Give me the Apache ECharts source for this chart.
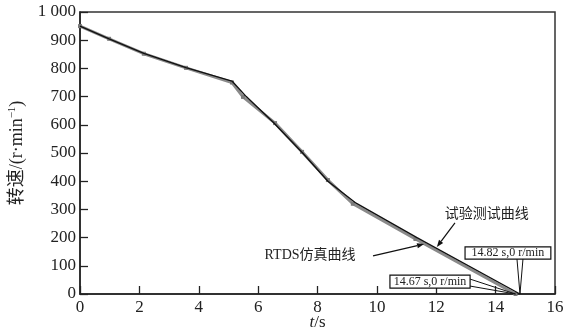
<!DOCTYPE html>
<html><head><meta charset="utf-8">
<script src="https://cdn.jsdelivr.net/npm/echarts@6/dist/echarts.min.js"></script>
<style>html,body{margin:0;padding:0;background:#fff}#c{width:566px;height:331px}</style>
</head><body><div id="c"></div>
<script>
// simulation (RTDS) curve
var simT = [0, 0.98, 2.15, 3.57, 5.12, 5.49, 6.57, 7.48, 8.35, 9.19, 11.3, 14.67];
var simV = [950, 905, 852, 802, 750, 699, 606, 504, 404, 320, 195, 0];
// test curve
var testT = [0, 0.98, 2.15, 3.57, 5.12, 5.6, 6.5, 7.5, 8.35, 9.3, 11.35, 14.82];
var testV = [950, 905, 853, 803, 755, 700, 610, 500, 400, 322, 200, 0];
var xTicks = [0, 2, 4, 6, 8, 10, 12, 14, 16];
var yTicks = [0, 100, 200, 300, 400, 500, 600, 700, 800, 900, 1000];
var labelTest = '试验测试曲线';
var labelSim = 'RTDS仿真曲线';
var box1 = '14.82 s,0 r/min';
var box2 = '14.67 s,0 r/min';

var serif = '"Liberation Serif","Noto Sans CJK SC",serif';
function pairs(t, v) { return t.map(function (x, i) { return [x, v[i]]; }); }

var chart = echarts.init(document.getElementById('c'));
chart.setOption({
  animation: false,
  grid: { left: 80, right: 11, top: 12, bottom: 37, show: true, borderColor: '#333', borderWidth: 1.5, containLabel: false, outerBoundsMode: 'none' },
  xAxis: {
    type: 'value', min: 0, max: 16, interval: 2,
    name: '{i|t}/s', nameLocation: 'middle', nameGap: 20, nameMoveOverlap: false,
    nameTextStyle: { fontFamily: serif, fontSize: 17, color: '#222', rich: { i: { fontStyle: 'italic', fontFamily: serif, fontSize: 17, color: '#222' } } },
    axisLine: { lineStyle: { color: '#222', width: 1.5 } },
    axisTick: { inside: true, length: 8, lineStyle: { color: '#222', width: 1.3 } },
    axisLabel: { fontFamily: serif, fontSize: 17, color: '#222', margin: 5, formatter: function (v) { return xTicks.indexOf(v) >= 0 ? String(v) : ''; } },
    splitLine: { show: false }
  },
  yAxis: {
    type: 'value', min: 0, max: 1000, interval: 100,
    name: '转速/(r·min{s|−1})', nameLocation: 'middle', nameGap: 53, nameRotate: 90, nameMoveOverlap: false,
    nameTextStyle: { fontFamily: serif, fontSize: 18, color: '#222', rich: { s: { fontSize: 11, verticalAlign: 'top', fontFamily: serif, color: '#222', padding: [0, 0, 9, 0] } } },
    axisLine: { lineStyle: { color: '#222', width: 1.5 } },
    axisTick: { inside: true, length: 8, lineStyle: { color: '#222', width: 1.3 } },
    axisLabel: { fontFamily: serif, fontSize: 17, color: '#222', margin: 4, formatter: function (v) { return v === 1000 ? '1 000' : (yTicks.indexOf(v) >= 0 ? String(v) : ''); } },
    splitLine: { show: false }
  },
  series: [
    {
      name: 'sim', type: 'line', data: pairs(simT, simV),
      lineStyle: { color: '#8a8a8a', width: 3 },
      symbol: 'rect', symbolSize: 4, itemStyle: { color: '#7a7a7a' }, z: 2
    },
    {
      name: 'test', type: 'line', data: pairs(testT, testV),
      lineStyle: { color: '#111', width: 1.4 },
      symbol: 'none', z: 3
    }
  ]
});

function P(t, v) { return chart.convertToPixel({ gridIndex: 0 }, [t, v]); }
function arrowEl(a, b) {
  var p = P(a[0], a[1]), q = P(b[0], b[1]);
  var ang = Math.atan2(q[1] - p[1], q[0] - p[0]);
  var L = 7, W = 2.6;
  var bx = q[0] - L * Math.cos(ang), by = q[1] - L * Math.sin(ang);
  var nx = -Math.sin(ang) * W, ny = Math.cos(ang) * W;
  return [
    { type: 'line', shape: { x1: p[0], y1: p[1], x2: bx, y2: by }, style: { stroke: '#111', lineWidth: 1.2 }, z: 10 },
    { type: 'polygon', shape: { points: [[q[0], q[1]], [bx + nx, by + ny], [bx - nx, by - ny]] }, style: { fill: '#111' }, z: 10 }
  ];
}
var els = [];
var tt = P(13.7, 287);
els.push({ type: 'text', x: tt[0], y: tt[1], style: { text: labelTest, font: '14px "Noto Sans CJK SC"', fill: '#222', align: 'center', verticalAlign: 'middle' }, z: 10 });
els = els.concat(arrowEl([12.63, 252], [12.02, 167]));
var ts = P(7.75, 138);
els.push({ type: 'text', x: ts[0], y: ts[1], style: { text: labelSim, font: '14px "Liberation Serif","Noto Sans CJK SC"', fill: '#222', align: 'center', verticalAlign: 'middle' }, z: 10 });
els = els.concat(arrowEl([9.87, 135], [11.59, 177]));

// callout box 1 (14.82)
var b1a = P(12.97, 167), b1b = P(15.86, 124), end1 = P(14.82, 0);
els.push({ type: 'rect', shape: { x: b1a[0], y: b1a[1], width: b1b[0] - b1a[0], height: b1b[1] - b1a[1] }, style: { fill: '#fff', stroke: '#111', lineWidth: 1.2 }, z: 11 });
els.push({ type: 'text', x: (b1a[0] + b1b[0]) / 2, y: (b1a[1] + b1b[1]) / 2, style: { text: box1, font: '12px "Liberation Serif"', fill: '#222', align: 'center', verticalAlign: 'middle' }, z: 12 });
els.push({ type: 'polyline', shape: { points: [[end1[0] - 3, b1b[1]], [end1[0], end1[1]], [end1[0] + 3, b1b[1]]] }, style: { stroke: '#111', lineWidth: 1, fill: null }, z: 11 });
// callout box 2 (14.67)
var b2a = P(10.44, 67), b2b = P(13.14, 21), end2 = P(14.67, 0);
els.push({ type: 'rect', shape: { x: b2a[0], y: b2a[1], width: b2b[0] - b2a[0], height: b2b[1] - b2a[1] }, style: { fill: '#fff', stroke: '#111', lineWidth: 1.2 }, z: 11 });
els.push({ type: 'text', x: (b2a[0] + b2b[0]) / 2, y: (b2a[1] + b2b[1]) / 2, style: { text: box2, font: '12px "Liberation Serif"', fill: '#222', align: 'center', verticalAlign: 'middle' }, z: 12 });
els.push({ type: 'polyline', shape: { points: [[b2b[0], b2a[1] + 4], [end2[0], end2[1]], [b2b[0], b2b[1] - 2]] }, style: { stroke: '#111', lineWidth: 1, fill: null }, z: 11 });

chart.setOption({ graphic: { elements: els } });
</script></body></html>
